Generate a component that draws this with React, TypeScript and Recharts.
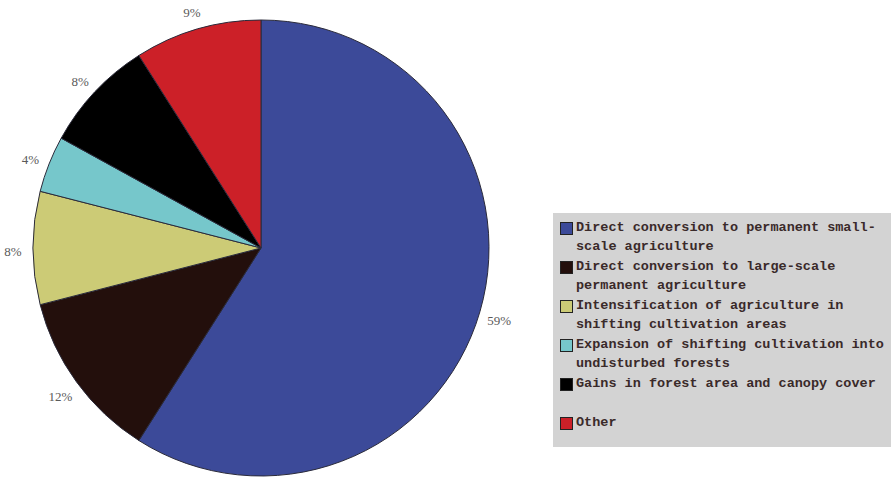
import React from "react";
import { PieChart, Pie, Cell, Legend } from "recharts";

const CATEGORIES = [
  "Direct conversion to permanent small-scale agriculture",
  "Direct conversion to large-scale permanent agriculture",
  "Intensification of agriculture in shifting cultivation areas",
  "Expansion of shifting cultivation into undisturbed forests",
  "Gains in forest area and canopy cover",
  "Other",
];

const SHARES = [59, 12, 8, 4, 8, 9];

const COLORS = [
  "#3c4a99", // blue
  "#230f0c", // dark brown
  "#cccb76", // khaki
  "#76c7cb", // cyan
  "#000000", // black
  "#cc2028", // red
];

const data = CATEGORIES.map((name, i) => ({ name, value: SHARES[i] }));

const RADIAN = Math.PI / 180;

const renderLabel = (props: any) => {
  const { cx, cy, midAngle, outerRadius, value } = props;
  const r = outerRadius + 20;
  const x = cx + r * Math.cos(-midAngle * RADIAN);
  const y = cy + r * Math.sin(-midAngle * RADIAN) + 3;
  return (
    <text
      x={x}
      y={y}
      fill="#5a5a5a"
      fontSize={13}
      fontFamily="'Liberation Serif', serif"
      textAnchor="middle"
      dominantBaseline="central"
    >
      {value}%
    </text>
  );
};

const LegendBox = () => (
  <div
    style={{
      width: 338,
      height: 234,
      background: "#d3d3d3",
      boxSizing: "border-box",
      padding: "5px 0 0 7px",
      fontFamily: "'Liberation Mono', monospace",
      fontSize: 13.5,
      fontWeight: "bold",
      lineHeight: "19px",
      color: "#3a2a2a",
    }}
  >
    {CATEGORIES.map((name, i) => (
      <div key={name} style={{ display: "flex", height: 39 }}>
        <span
          style={{
            width: 11,
            height: 11,
            marginTop: 4,
            marginRight: 3,
            flex: "none",
            background: COLORS[i],
            border: "1px solid #222",
          }}
        />
        <span style={{ width: 314 }}>{name}</span>
      </div>
    ))}
  </div>
);

export default function App() {
  return (
    <div
      style={{
        position: "absolute",
        left: 0,
        top: 0,
        width: 891,
        height: 477,
        background: "#ffffff",
      }}
    >
      <PieChart width={891} height={477} margin={{ top: 0, right: 0, bottom: 0, left: 0 }}>
        <Pie
          data={data}
          dataKey="value"
          nameKey="name"
          cx={261}
          cy={248}
          outerRadius={228}
          startAngle={90}
          endAngle={-270}
          stroke="#2a2a3a"
          strokeWidth={1}
          label={renderLabel}
          labelLine={false}
          isAnimationActive={false}
        >
          {data.map((entry, i) => (
            <Cell key={`cell-${i}`} fill={COLORS[i]} />
          ))}
        </Pie>
        <Legend
          content={() => <LegendBox />}
          wrapperStyle={{ position: "absolute", left: 553, top: 213, width: 338, height: 234 }}
        />
      </PieChart>
    </div>
  );
}
